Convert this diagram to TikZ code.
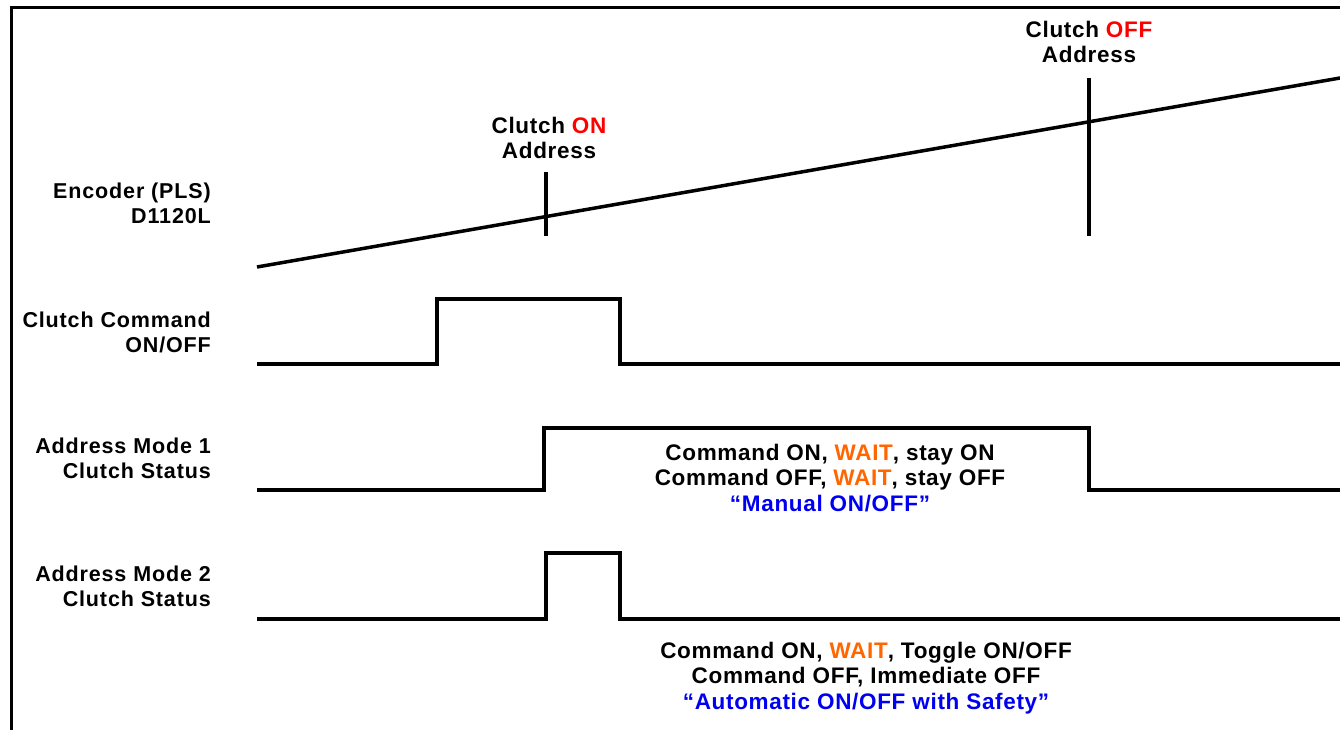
\documentclass[tikz,border=0pt]{standalone}
\usepackage{fontspec}
\setmainfont{Liberation Sans}
\definecolor{onred}{RGB}{255,0,0}
\definecolor{waitorange}{RGB}{255,102,0}
\definecolor{quoteblue}{RGB}{0,0,240}
\begin{document}
\begin{tikzpicture}[x=1pt,y=-1pt,
  sig/.style={line width=4pt, line join=miter},
  frame/.style={line width=3pt},
  lbl/.style={font=\bfseries\fontsize{21.5}{25}\selectfont\addfontfeature{LetterSpace=4}, inner sep=0pt, align=right, anchor=east},
  txt/.style={font=\bfseries\fontsize{22.5}{25.5}\selectfont\addfontfeature{LetterSpace=3}, inner sep=0pt, align=center}]
\useasboundingbox (0,0) rectangle (1340,730);
% frame
\draw[frame] (11,730) -- (11,8) -- (1340,8);
% left labels
\node[lbl] (enc) at (211,203) {Encoder (PLS)\\D1120L};
\node[lbl] (cmd) at (211,332) {Clutch Command\\ON/OFF};
\node[lbl] (m1) at (211,458) {Address Mode 1\\Clutch Status};
\node[lbl] (m2) at (211,586) {Address Mode 2\\Clutch Status};
% top labels
\node[txt] (onlbl) at (549,138) {Clutch \textcolor{onred}{ON}\\Address};
\node[txt] (offlbl) at (1089,42) {Clutch \textcolor{onred}{OFF}\\Address};
% encoder ramp
\coordinate (encA) at (257,267);
\coordinate (encB) at (1340,78);
\draw[sig, line width=3.5pt] (encA) -- (encB);
% address ticks
\coordinate (onT) at (546,172);
\coordinate (onB) at (546,236);
\coordinate (offT) at (1089,78);
\coordinate (offB) at (1089,236);
\draw[sig] (onT) -- (onB);
\draw[sig] (offT) -- (offB);
% descriptions
\node[txt] (d1) at (830,478) {Command ON, \textcolor{waitorange}{WAIT}, stay ON\\Command OFF, \textcolor{waitorange}{WAIT}, stay OFF\\\textcolor{quoteblue}{“Manual ON/OFF”}};
\node[txt] (d2) at (866,678) {Command ON, \textcolor{waitorange}{WAIT}, Toggle ON/OFF\\Command OFF, Immediate OFF\\\textcolor{quoteblue}{“Automatic ON/OFF with Safety”}};
% clutch command
\draw[sig] (257,364) -- (437,364) -- (437,299) -- (620,299) -- (620,364) -- (1340,364);
% mode 1
\draw[sig] (257,490) -- (544,490) -- (544,428) -- (1089,428) -- (1089,490) -- (1340,490);
% mode 2
\draw[sig] (257,619) -- (546,619) -- (546,553) -- (620,553) -- (620,619) -- (1340,619);
\end{tikzpicture}
\end{document}
